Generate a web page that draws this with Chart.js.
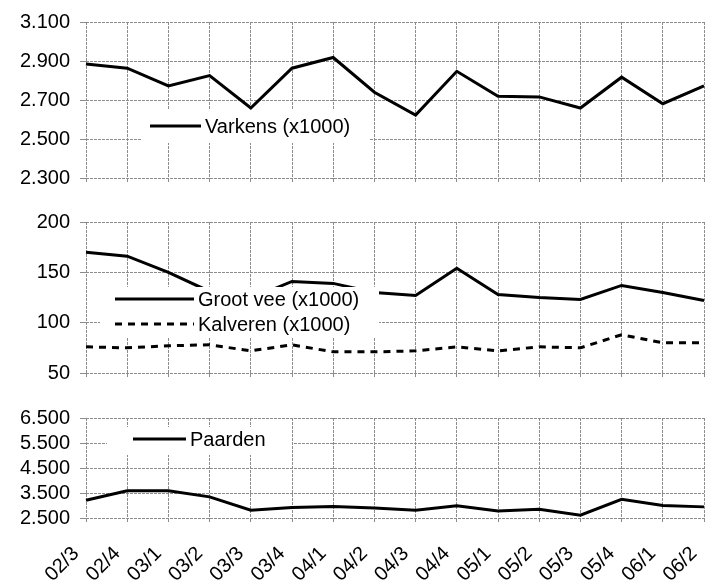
<!DOCTYPE html>
<html>
<head>
<meta charset="utf-8">
<script src="https://cdn.jsdelivr.net/npm/chart.js@4/dist/chart.umd.min.js"></script>
<style>
html,body{margin:0;padding:0;background:#fff;}
#wrap{position:relative;width:714px;height:584px;}
#wrap div{position:absolute;left:0;width:714px;}
</style>
</head>
<body>
<div id="wrap">
  <div style="top:0;height:200px"><canvas id="c1"></canvas></div>
  <div style="top:200px;height:195px"><canvas id="c2"></canvas></div>
  <div style="top:395px;height:189px"><canvas id="c3"></canvas></div>
</div>
<script>
// kwartalen
const labels=['02/3','02/4','03/1','03/2','03/3','03/4','04/1','04/2','04/3','04/4','05/1','05/2','05/3','05/4','06/1','06/2'];
// aantallen
const varkens=[2885,2863,2772,2825,2659,2863,2918,2740,2623,2847,2719,2716,2659,2817,2681,2772];
const grootVee=[170,166,150,131,124,141,139,130,127,154,128,125,123,137,130,122];
const kalveren=[76,75,77,78,72,78,71,71,72,76,72,76,75,88,80,80];
const paarden=[3210,3590,3590,3345,2810,2920,2960,2900,2810,2985,2780,2850,2610,3250,3000,2945];
// as-labels
const varkensTicks=[2300,2500,2700,2900,3100];
const veeTicks=[50,100,150,200];
const paardenTicks=[2500,3500,4500,5500,6500];

const FONT='"Liberation Sans", Arial, sans-serif';
Chart.defaults.font.family=FONT;
Chart.defaults.font.size=20;
Chart.defaults.color='#000';

function fmt(v){
  // duizendtallen met punt
  const s=String(Math.round(v));
  return s.length>3 ? s.slice(0,-3)+'.'+s.slice(-3) : s;
}

const gridCol='#8c8c8c';

// legenda binnen het plotvlak
const inLegend={
  id:'inLegend',
  afterDatasetsDraw(chart,args,opts){
    const ctx=chart.ctx;
    const [bx,by,bw,bh]=opts.box;
    ctx.save();
    ctx.fillStyle='#fff';
    ctx.fillRect(bx,by,bw,bh);
    opts.rows.forEach((r,i)=>{
      const ds=chart.data.datasets[i];
      ctx.strokeStyle='#000';
      ctx.lineWidth=3;
      ctx.setLineDash(ds.borderDash||[]);
      ctx.beginPath();ctx.moveTo(r.x0,r.y);ctx.lineTo(r.x1,r.y);ctx.stroke();
      ctx.setLineDash([]);
      ctx.fillStyle='#000';
      ctx.font='20px '+FONT;
      ctx.textBaseline='middle';
      ctx.textAlign='left';
      ctx.fillText(ds.label,r.x1+4,r.y+1);
    });
    ctx.restore();
  }
};

function makeChart(id,sets,ticks,pad,showX,legend){
  return new Chart(document.getElementById(id),{
    type:'line',
    data:{labels:labels,datasets:sets.map(s=>({
      label:s.label,data:s.data,borderColor:'#000',borderWidth:3,
      borderDash:s.dash||[],pointRadius:0,tension:0,fill:false
    }))},
    options:{
      responsive:true,maintainAspectRatio:false,animation:false,
      layout:{padding:pad},
      plugins:{legend:{display:false},tooltip:{enabled:false},inLegend:legend},
      scales:{
        x:{
          offset:false,
          grid:{color:gridCol,lineWidth:1,tickLength:4},
          border:{display:false,dash:[3,1]},
          ticks:{display:showX,autoSkip:false,minRotation:45,maxRotation:45,padding:20,labelOffset:-10,font:{size:20}},
          afterFit(s){s.height=showX?66:0;s.paddingLeft=0;s.paddingRight=0;}
        },
        y:{
          min:ticks[0],max:ticks[ticks.length-1],
          grid:{color:gridCol,lineWidth:1,tickLength:6},
          border:{display:false,dash:[3,1]},
          afterBuildTicks(s){s.ticks=ticks.map(v=>({value:v}));},
          ticks:{padding:10,autoSkip:false,callback:v=>fmt(v)},
          afterFit(s){s.width=86;}
        }
      }
    },
    plugins:[inLegend]
  });
}

makeChart('c1',[{label:'Varkens (x1000)',data:varkens}],varkensTicks,
  {top:19,bottom:20,left:0,right:10},false,
  {box:[142,110,227,33],rows:[{x0:150,x1:201,y:126}]});

makeChart('c2',[{label:'Groot vee (x1000)',data:grootVee},{label:'Kalveren (x1000)',data:kalveren,dash:[7,6]}],veeTicks,
  {top:19,bottom:19,left:0,right:10},false,
  {box:[100,87,279,50],rows:[{x0:115,x1:194,y:99},{x0:115,x1:194,y:124}]});

makeChart('c3',[{label:'Paarden',data:paarden}],paardenTicks,
  {top:23,bottom:0,left:0,right:10},true,
  {box:[107,32,185,28],rows:[{x0:133,x1:186,y:44}]});
</script>
</body>
</html>
